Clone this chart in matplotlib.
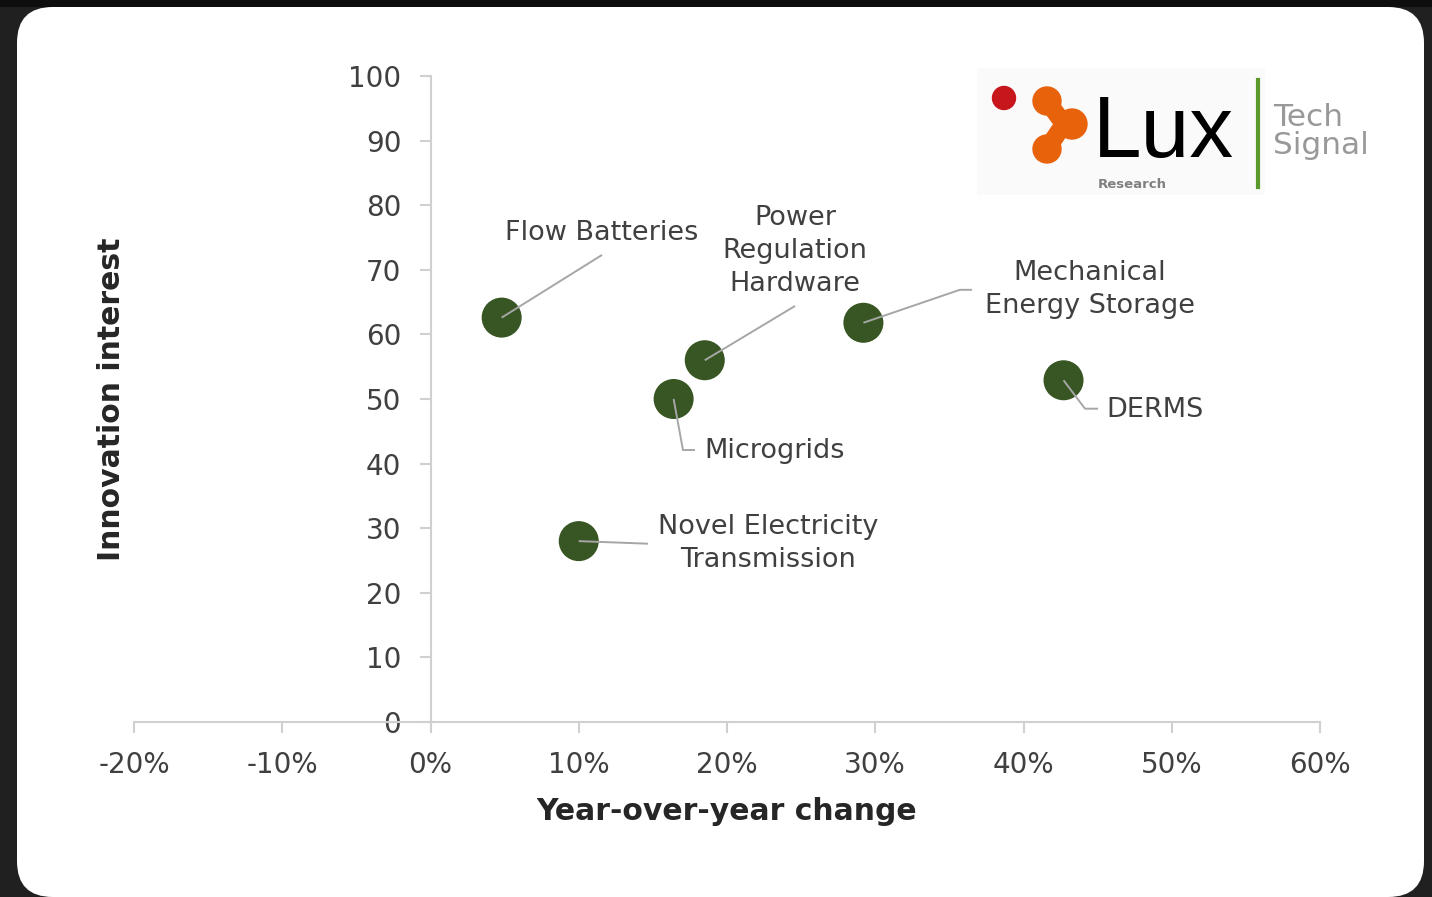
import matplotlib
matplotlib.use("Agg")
import matplotlib.pyplot as plt
from matplotlib.patches import FancyBboxPatch, Rectangle, Circle
from matplotlib.lines import Line2D
from matplotlib.ticker import FuncFormatter

# ---- data ----
technologies = ["Flow Batteries", "Power\nRegulation\nHardware", "Microgrids",
                "Mechanical\nEnergy Storage", "DERMS", "Novel Electricity\nTransmission"]
yoy_change = [0.048, 0.185, 0.164, 0.292, 0.427, 0.100]
innovation_interest = [62.6, 56.0, 50.0, 61.8, 52.9, 28.0]
x_ticks = [-0.2, -0.1, 0.0, 0.1, 0.2, 0.3, 0.4, 0.5, 0.6]
y_ticks = [0, 10, 20, 30, 40, 50, 60, 70, 80, 90, 100]

W, H, DPI = 1432, 897, 100
fig = plt.figure(figsize=(W / DPI, H / DPI), dpi=DPI)
fig.patch.set_facecolor("#202020")

def fx(px):
    return px / W

def fy(py):
    return 1 - py / H

# dark top band and white card
fig.patches.append(Rectangle((0, fy(7)), 1, 7 / H, transform=fig.transFigure,
                             facecolor="#0e0e0e", edgecolor="none", zorder=0))
card = FancyBboxPatch((fx(17), fy(897)), fx(1424) - fx(17), fy(7) - fy(897),
                      boxstyle="round,pad=0,rounding_size=0.025",
                      transform=fig.transFigure, facecolor="white", edgecolor="none",
                      mutation_aspect=W / H, zorder=0.5)
fig.patches.append(card)

FONT = "DejaVu Sans"
TXT = "#404040"
GRID = "#d0d0d0"
LEAD = "#a6a6a6"
GREEN = "#375623"

ax = fig.add_axes([fx(134), fy(722), fx(1320) - fx(134), fy(76) - fy(722)], zorder=3)
ax.set_facecolor("none")
ax.set_xlim(-0.2, 0.6)
ax.set_ylim(0, 100)
for s in ["top", "right"]:
    ax.spines[s].set_visible(False)
ax.spines["left"].set_position(("data", 0))
ax.spines["bottom"].set_position(("data", 0))
for s in ["left", "bottom"]:
    ax.spines[s].set_color(GRID)
    ax.spines[s].set_linewidth(1.5)
ax.set_xticks(x_ticks)
ax.set_yticks(y_ticks)
ax.xaxis.set_major_formatter(FuncFormatter(lambda v, p: f"{v*100:.0f}%"))
ax.tick_params(axis="both", colors=GRID, width=1.5, length=8, labelcolor=TXT, labelsize=20)
ax.tick_params(axis="x", pad=13)
ax.tick_params(axis="y", pad=13)
for lab in ax.get_xticklabels() + ax.get_yticklabels():
    lab.set_fontfamily(FONT)

ax.scatter(yoy_change, innovation_interest, s=830, color=GREEN, zorder=3, edgecolor="none")

# leader lines and labels (positions in data coordinates)
leaders = [
    [(0.1157, 72.3)],
    [(0.2459, 64.4)],
    [(0.1703, 42.1), (0.1784, 42.1)],
    [(0.357, 66.9), (0.3653, 66.9)],
    [(0.4415, 48.5), (0.4503, 48.5)],
    [(0.1467, 27.6)],
]
label_pos = [(0.1157, 75.7, "center"), (0.2459, 72.9, "center"), (0.1845, 41.9, "left"),
             (0.4449, 66.9, "center"), (0.4557, 48.3, "left"), (0.2277, 27.6, "center")]
for i, name in enumerate(technologies):
    xs = [yoy_change[i]] + [p[0] for p in leaders[i]]
    ys = [innovation_interest[i]] + [p[1] for p in leaders[i]]
    ax.plot(xs, ys, color=LEAD, lw=1.4, zorder=4, solid_capstyle="butt")
    lx, ly, ha = label_pos[i]
    ax.text(lx, ly, name, ha=ha, va="center", fontsize=19.5, color=TXT, family=FONT,
            linespacing=1.36, zorder=5)

fig.text(fx(727), fy(811), "Year-over-year change", ha="center", va="center",
         fontsize=21.5, fontweight="bold", color="#262626", family=FONT, zorder=4)
fig.text(fx(112), fy(399), "Innovation interest", ha="center", va="center", rotation=90,
         fontsize=21.5, fontweight="bold", color="#262626", family=FONT, zorder=4)

# ---- logo ----
lax = fig.add_axes([0, 0, 1, 1], zorder=5)
lax.set_xlim(0, W)
lax.set_ylim(H, 0)
lax.axis("off")
lax.patch.set_visible(False)
lax.add_patch(Rectangle((977, 68), 288, 127, facecolor="#fafafa", edgecolor="none", zorder=1))
lax.add_patch(Circle((1004, 98), 11.5, color="#c8161d", zorder=6))
orange = "#e8620c"
for c, r in [((1047, 101), 14), ((1047, 149), 14), ((1072, 124), 15)]:
    lax.add_patch(Circle(c, r, color=orange, zorder=6))
lax.plot([1047, 1064, 1047], [101, 124, 149], color=orange, lw=13, solid_capstyle="round", zorder=6)
lax.text(1093, 157, "Lux", fontsize=63, family="Liberation Sans", color="black",
         ha="left", va="baseline", zorder=7)
lax.text(1132, 184, "Research", fontsize=9.5, family=FONT, fontweight="bold", color="#808080",
         ha="center", va="center", zorder=7)
lax.add_line(Line2D([1258, 1258], [80, 187], color="#5a9a2a", lw=3, zorder=7))
lax.text(1273, 118, "Tech", fontsize=22.5, family=FONT, color="#999999", ha="left", va="center", zorder=7)
lax.text(1273, 146, "Signal", fontsize=22.5, family=FONT, color="#999999", ha="left", va="center", zorder=7)

fig.savefig("out.png", dpi=DPI, facecolor=fig.get_facecolor())
